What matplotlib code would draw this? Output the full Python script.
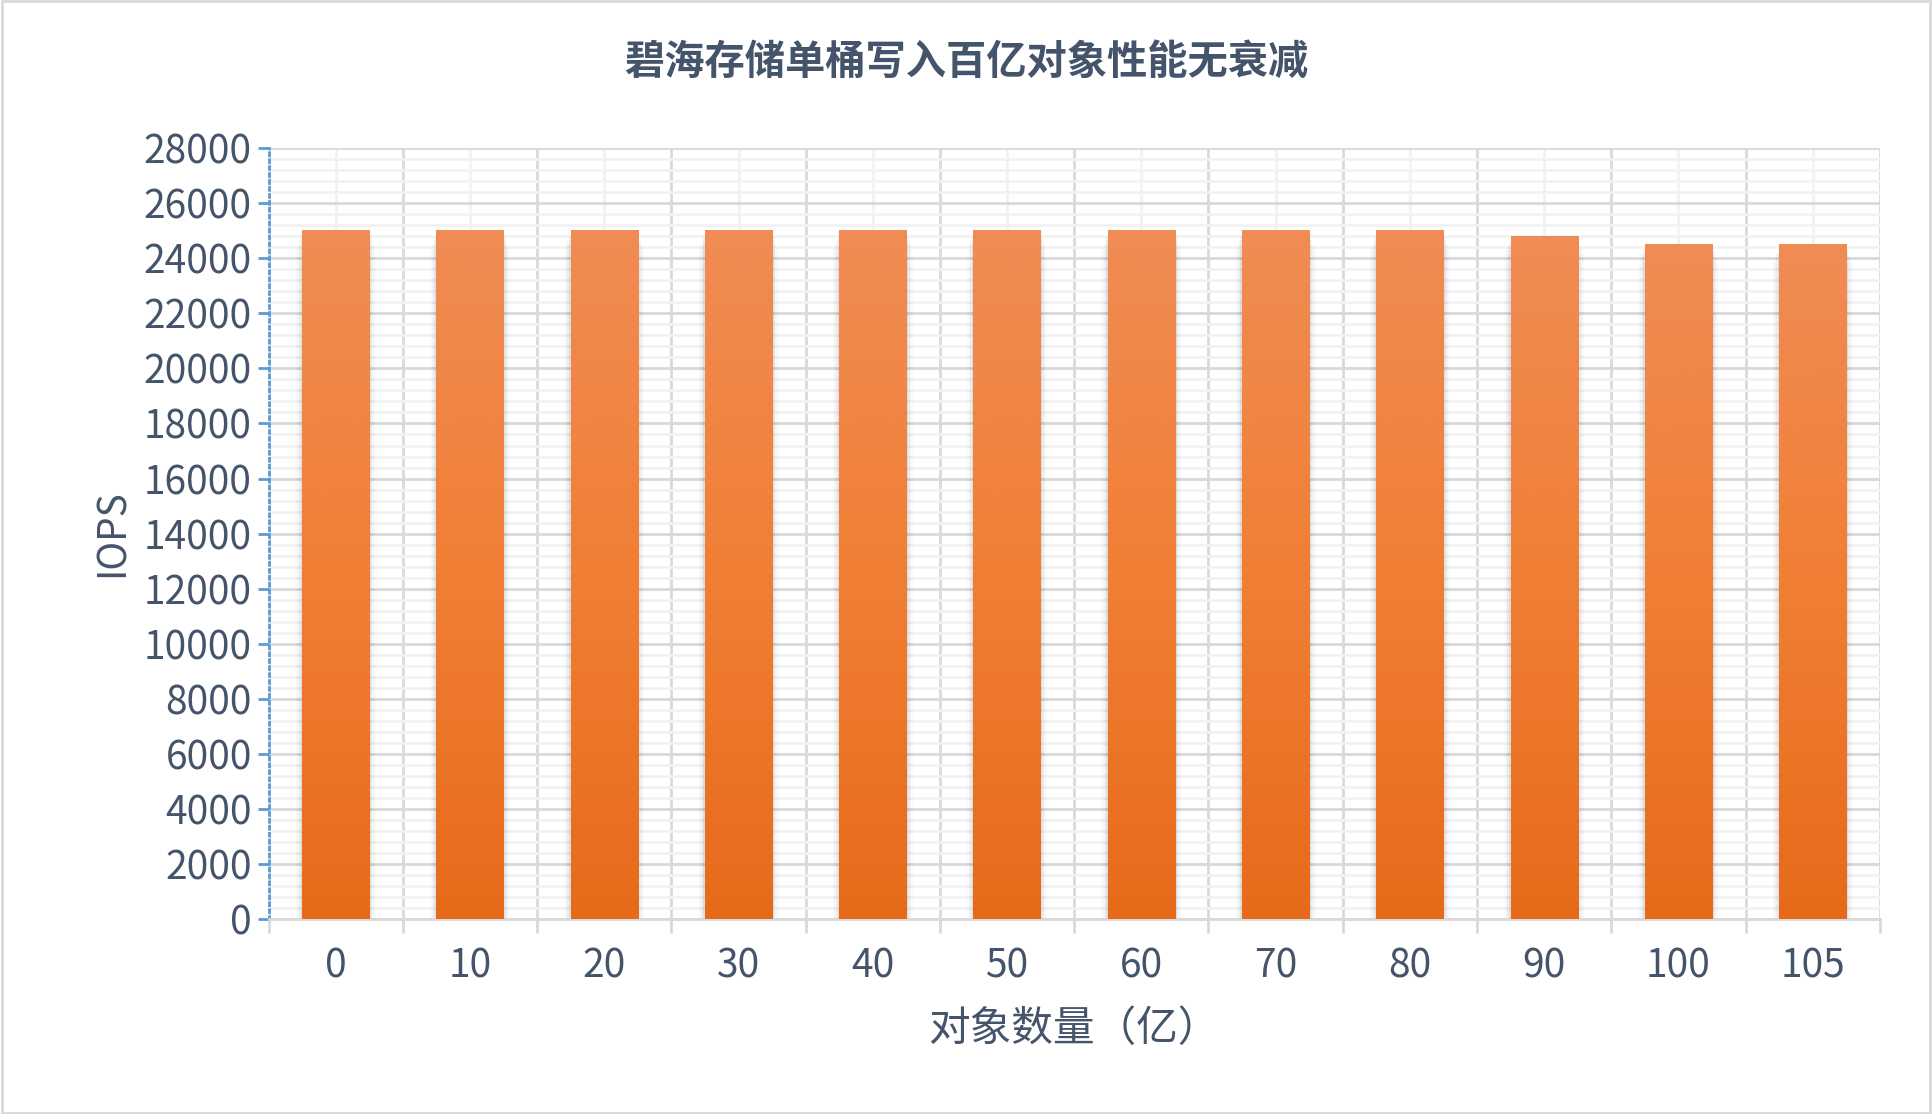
"""Bar chart of single-bucket write IOPS against object count."""

import matplotlib

matplotlib.use("Agg")

import numpy as np
import matplotlib.pyplot as plt
from matplotlib.colors import LinearSegmentedColormap
from matplotlib.patches import Rectangle
from matplotlib.ticker import MultipleLocator

plt.rcParams["font.family"] = ["Noto Sans CJK SC", "DejaVu Sans"]

CATEGORIES = ["0", "10", "20", "30", "40", "50", "60", "70", "80", "90", "100", "105"]
IOPS = [25000, 25000, 25000, 25000, 25000, 25000, 25000, 25000, 25000, 24800, 24500, 24500]
TITLE = "碧海存储单桶写入百亿对象性能无衰减"
XLABEL = "对象数量（亿）"
YLABEL = "IOPS"

TEXT = "#44546A"
cmap = LinearSegmentedColormap.from_list("bar", ["#E76A1A", "#F07F34", "#F08C55"])

fig = plt.figure(figsize=(19.32, 11.14), dpi=100)
fig.patches.append(Rectangle((0.001, 0.001), 0.998, 0.998, transform=fig.transFigure,
                             fill=False, edgecolor="#D9D9D9", linewidth=2))
ax = fig.add_axes([0.139, 0.175, 0.834, 0.692])

x = np.arange(len(CATEGORIES))
width = 0.5
grad = np.linspace(0, 1, 256).reshape(-1, 1)
for xi, v in zip(x, IOPS):
    # soft shadow, mostly to the sides
    for k, a in enumerate([0.05, 0.035, 0.025, 0.015]):
        ax.add_patch(Rectangle((xi - width / 2 - 0.012 * (k + 1), 0), width + 0.024 * (k + 1),
                               v - 200 - 150 * k, color="black", alpha=a, lw=0, zorder=2))
    ax.imshow(grad, cmap=cmap, origin="lower", aspect="auto",
              extent=(xi - width / 2, xi + width / 2, 0, v), zorder=3)

ax.set_xlim(-0.5, len(CATEGORIES) - 0.5)
ax.set_ylim(0, 28000)
ax.yaxis.set_major_locator(MultipleLocator(2000))
ax.yaxis.set_minor_locator(MultipleLocator(400))
ax.set_xticks(x)
ax.set_xticklabels(CATEGORIES)
ax.set_xticks(np.arange(-0.5, len(CATEGORIES)), minor=True)

ax.grid(which="major", axis="y", color="#D9D9D9", lw=2, zorder=0)
ax.grid(which="minor", axis="y", color="#F2F2F2", lw=2, zorder=0)
ax.grid(which="minor", axis="x", color="#D9D9D9", lw=2, zorder=0)
ax.grid(which="major", axis="x", color="#F2F2F2", lw=2, zorder=0)
ax.set_axisbelow(True)

for s in ["top", "right"]:
    ax.spines[s].set_visible(False)
ax.spines["bottom"].set_color("#D9D9D9")
ax.spines["bottom"].set_linewidth(2)
ax.spines["left"].set_color("#5B9BD5")
ax.spines["left"].set_linestyle((0, (1, 1.5)))
ax.spines["left"].set_linewidth(2)

ax.tick_params(axis="y", which="major", length=8, width=2, color="#5B9BD5",
               labelsize=28, labelcolor=TEXT, pad=4)
ax.tick_params(axis="x", which="major", length=0, labelsize=28, labelcolor=TEXT, pad=20)
ax.tick_params(axis="y", which="minor", length=0)
ax.tick_params(axis="x", which="minor", length=10, width=2, color="#D9D9D9")
for lab in ax.get_xticklabels() + ax.get_yticklabels():
    lab.set_fontweight("light")

ax.set_xlabel(XLABEL, fontsize=30, color=TEXT, labelpad=16, fontweight="light")
ax.set_ylabel(YLABEL, fontsize=28, color=TEXT, labelpad=8, fontweight="light")
fig.text(0.5, 0.944, TITLE, ha="center", va="center", fontsize=29, fontweight="bold", color=TEXT)

fig.savefig("out.png")
